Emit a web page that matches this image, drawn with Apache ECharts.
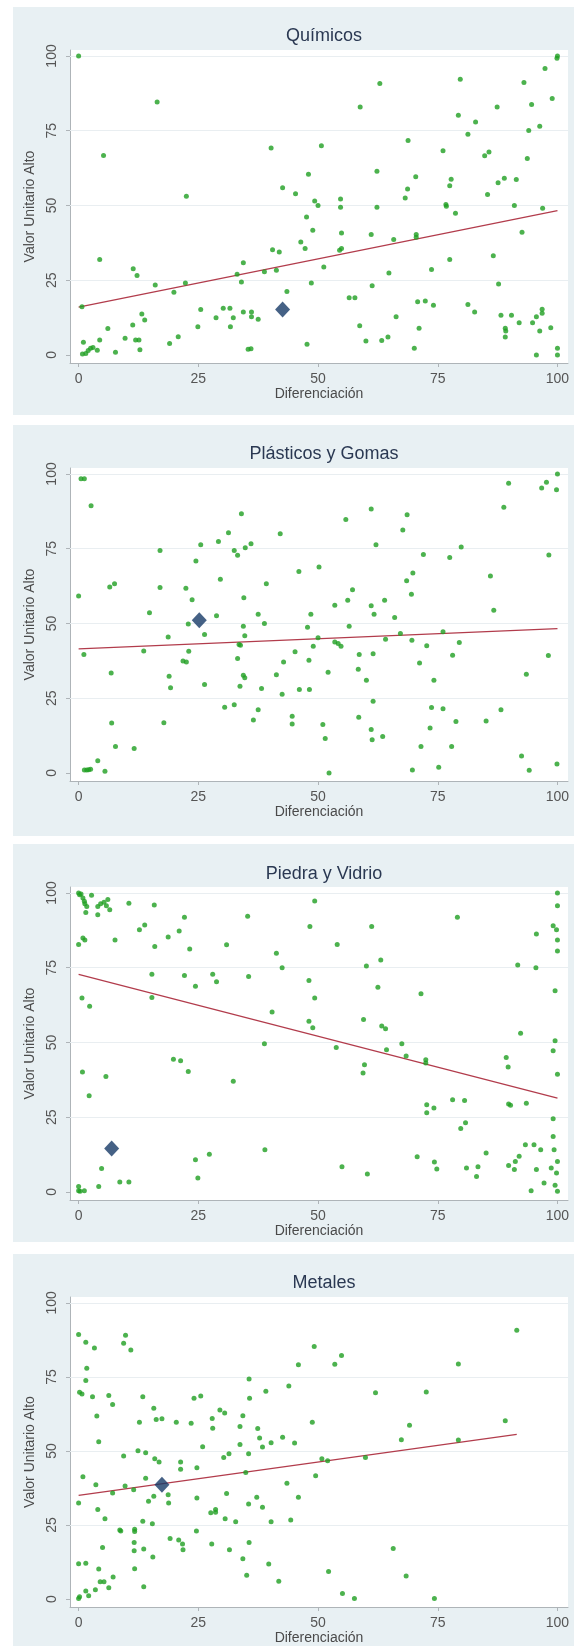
<!DOCTYPE html>
<html><head><meta charset="utf-8">
<script src="https://cdn.jsdelivr.net/npm/echarts@6/dist/echarts.min.js"></script>
<style>
html,body{margin:0;padding:0;background:#fff;}
#wrap{position:relative;width:574px;height:1646px;overflow:hidden;}
.panel{position:absolute;left:13px;right:0;background:#e8f0f3;}
#c{position:absolute;left:0;top:0;width:574px;height:1646px;}
</style>
</head><body><div id="wrap"><div id="c"></div></div>
<script>
// ---------------- DATA ----------------
const panelTitles = ['Químicos', 'Plásticos y Gomas', 'Piedra y Vidrio', 'Metales'];
const xName = 'Diferenciación';
const yName = 'Valor Unitario Alto';
const xTicks = [0, 25, 50, 75, 100];
const yTicks = [0, 25, 50, 75, 100];

const quimicos = [[0,100],[5.2,66.7],[16.4,84.6],[22.5,53.1],[40.2,69.2],[42.6,55.9],[45.3,53.9],[48,60.4],[49.3,51.5],[50.7,70],[54.7,52.2],[58.8,82.9],[62.3,61.4],[62.9,90.8],[68.2,52.5],[68.8,71.7],[68.7,55.5],[70.4,59.6],[76.1,68.3],[77.8,58.8],[77.5,56.6],[79.3,80.2],[79.7,92.2],[81.3,73.8],[82.9,77.9],[84.8,66.6],[85.7,67.9],[85.4,53.7],[87.4,82.9],[87.6,57.6],[88.9,59.1],[91.4,58.7],[93,91.1],[93.7,65.7],[94,75.1],[94.6,83.8],[96.3,76.5],[97.4,95.8],[98.9,85.8],[99.9,99.2],[100,100],
[50,50],[54.7,49.4],[62.3,49.4],[76.7,50.3],[76.8,49.7],[78.7,47.4],[91,50],[96.9,49.1],
[47.6,46.1],[48.9,41.7],[46.4,37.8],[47.3,35.6],[40.5,35.2],[41.9,34.4],[41.3,28.3],[38.8,27.8],[34.4,30.8],[33.1,27],[34,24.4],[43.5,21.2],[48.6,24.1],[51.2,29.4],[54.9,40.8],[54.5,35],[54.9,35.6],[61.1,40.3],[65.8,38.6],[64.8,27.4],[61.3,23.1],[56.5,19.1],[57.7,19.1],[70.5,40.3],[70.5,39.4],[77.5,31.9],[73.7,28.6],[86.6,33.2],[92.6,41],[87.7,23.7],[70.8,17.8],[72.4,18],[74.1,16.6],[81.3,16.9],[82.7,14.4],[66.3,12.8],[58.7,9.8],[71.1,8.9],[60,4.7],[63.3,4.8],[64.6,6],[70.1,2.2],[88.2,13.3],[89.1,8.9],[89.2,8],[89.1,6],[90.4,13.3],[92,10.8],[95.6,12.8],[96.8,13.9],[96.8,15.3],[96.3,8],[98.6,9.1],[95.6,0],[100,2.2],[100,0],[94.8,10.8],
[0.7,16.1],[0.8,0.3],[1,4.2],[1.5,0.5],[2,1.5],[2.5,2.2],[3,2.5],[3.9,1.6],[4.4,5],[4.4,31.9],[6.1,8.8],[7.7,0.9],[9.7,5.6],[11.3,10],[11.4,28.8],[12.2,26.6],[11.9,5],[12.6,5],[12.8,1.7],[13.2,13.7],[13.8,11.7],[16,23.4],[19,3.8],[19.9,21],[20.8,6.1],[22.3,24.1],[24.9,9.4],[25.5,15.2],[28.7,12.4],[30.2,15.6],[31.6,15.6],[31.7,9.4],[32.3,12.4],[34.4,14.4],[36.1,14.4],[36.1,12.8],[37.5,11.9],[35.4,1.9],[36,2.1],[47.7,3.6]];

const plasticos = [[0.5,98.4],[1.2,98.4],[2.6,89.4],[0,59.2],[6.5,62.2],[7.5,63.3],[17,74.4],[17,62],[14.8,53.6],[22.4,61.8],[23.7,57.9],[24.5,70.9],[25.5,76.3],[29.2,77.4],[29.6,64.8],[28.8,52.6],[31.3,80.3],[32.5,74.4],[33.2,72.8],[34,86.7],[34.8,75.3],[36,76.7],[34.5,58.6],[37.5,53.1],[39.2,63.3],[42.1,80],[46,67.4],[50.2,68.9],[48.5,53.1],[53.5,56.1],[55.8,84.8],[56.2,57.8],[57.2,61.3],[61.1,88.3],[61.1,55.9],[61.7,53.1],[62.1,76.3],[63.9,57.8],[66,52],[67.7,81.3],[68.6,86.4],[68.5,64.3],[69.8,66.9],[69.5,59.8],[72,73.1],[77.5,72.1],[79.9,75.6],[86,65.9],[86.7,54.4],[88.8,88.9],[89.8,96.9],[96.7,95.3],[97.7,97.2],[100,100],[99.8,94.7],[98.2,72.9],
[22.9,49.8],[38.8,50],[34.4,49.1],[34.7,45.9],[26.3,46.3],[18.7,45.5],[1.1,39.6],[13.6,40.8],[21.8,37.4],[22.5,37.1],[23,40.7],[33.5,43],[33.8,42.7],[33.2,38.3],[18.9,32.3],[19.2,28.5],[6.8,33.4],[6.9,16.7],[17.8,16.8],[26.3,29.6],[33.7,29],[34.4,32.7],[34.7,31.8],[30.5,22],[32.5,22.8],[37.5,21.1],[36.5,17.7],[38.2,28.2],[41.3,32.8],[42.5,26.3],[42.8,37.1],[45.2,40.5],[44.6,19],[44.6,16.4],[46.1,27.9],[48.2,27.9],[48.1,37.7],[47.8,48.7],[49,42.4],[50,45.2],[52.1,33.7],[51,16.2],[51.5,11.5],[52.3,0],[53.5,43.8],[54.2,43.3],[54.8,42.4],[56.5,49.1],[58.6,39.6],[58.4,34.7],[60.1,31],[61.5,39.9],[61.5,24],[58.5,18.6],[61.1,14.5],[61.3,11.1],[63.5,12.2],[64.1,44.7],[67.2,46.6],[69.6,44.4],[69.7,1],[71.2,36.8],[71.5,8.8],[72.7,42.5],[74.2,31],[73.7,21.9],[73.4,15],[75.2,1.9],[76.1,47.2],[76.1,21.5],[78.1,39.4],[78.8,17.2],[77.9,8.8],[79.5,43.6],[85.1,17.4],[88.2,21.1],[92.5,5.7],[93.5,33],[94.1,0.9],[98.1,39.3],[99.9,3],[1.2,1],[1.7,1],[2.1,1.1],[2.5,1.2],[4,4.1],[5.5,0.6],[7.7,8.8],[11.6,8.2]];

const piedra = [[0,100],[0.2,99.4],[0.5,99.7],[0.9,98.3],[1.2,97.2],[1.3,96.4],[1.7,95.5],[2.7,99.2],[1.5,93.5],[4,95.5],[4.6,96.4],[5.3,96.9],[6.1,97.8],[5.8,95.7],[6.5,94.4],[4,92.7],[0,82.8],[0.9,84.9],[1.3,84.3],[7.6,84.3],[10.5,96.6],[12.7,87.7],[13.8,89.3],[15.8,96],[15.9,82.1],[15.3,72.8],[15.3,65],[0.7,64.9],[2.3,62.1],[18.7,85.3],[21,87.3],[22.1,91.9],[23.2,81.3],[22.1,72.4],[24.4,68.8],[28,72.8],[28.8,70.3],[30.9,82.7],[35.3,92.2],[35.5,72.1],[40.4,60.2],[41.3,79.8],[42.5,75],[48.1,70.7],[48.3,88.8],[49.3,97.3],[49.3,64.9],[48.1,57.1],[48.9,54.9],[54,82.8],[59.5,57.7],[60.1,75.6],[61.2,88.8],[63.1,77.6],[62.5,68.5],[63.3,55.5],[64.1,54.6],[71.5,66.3],[79.1,91.9],[91.7,75.9],[92.3,53.1],[95.5,75],[95.6,86.3],[99.1,89],[99.8,87.7],[100,100],[100,95.7],[100,84.3],[100,80.6],[99.5,67.3],[99.5,50.6],
[99.1,47.2],[100,39.4],[38.8,49.6],[53.8,48.3],[64.3,47.6],[67.5,49.6],[68.4,45.5],[72.5,44.2],[72.5,43.1],[89.3,45],[89.7,41.8],[59.7,42.5],[59.4,39.8],[19.8,44.4],[21.3,43.9],[22.9,40.3],[32.3,37],[0.8,40.1],[5.7,38.6],[2.2,32.2],[72.7,29.2],[72.7,26.5],[74.2,28.1],[78.1,30.8],[80.6,30.6],[79.8,21.2],[80.8,23.1],[89.8,29.4],[90.2,29],[93.5,29.7],[99.1,24.5],[99.1,18.5],[99.3,14.1],[100,10.2],[99.8,6.3],[99.5,2.2],[100,0.2],[98.7,8],[95.6,7.5],[97.2,3],[96.5,14.1],[95.1,15.8],[93.3,15.8],[92,11.9],[91.2,10.2],[91,7.5],[89.8,8.8],[94.5,0.4],[85.1,13],[83.4,8.4],[83.1,5.2],[81,8],[70.7,11.8],[74.3,10],[74.8,7.7],[55,8.4],[60.3,6],[38.9,14.1],[27.3,12.6],[24.4,10.8],[24.9,4.7],[8.6,3.3],[10.5,3.3],[4.8,7.8],[4.2,1.8],[0,1.8],[0.3,0.2],[1.2,0.4],[0,0.4]];

const metales = [[0,89.3],[1.5,86.7],[3.3,84.8],[0.2,69.8],[0.7,69.2],[1.7,77.9],[1.5,73.8],[2.9,68.3],[3.8,61.8],[4.2,53.1],[6.3,68.7],[7.1,65.7],[9.4,86.4],[9.8,89.1],[10.9,84.1],[12.7,59.7],[13.4,68.3],[15.7,64.4],[16.2,60.6],[17.4,60.9],[20.4,59.7],[23.5,59.4],[24.1,67.8],[25.5,68.6],[25.9,51.4],[27.9,61],[28,57.7],[29.5,63.8],[30.5,62.8],[33.7,58.3],[34.3,61.9],[33.7,52.2],[35.6,74.3],[35.7,67.8],[37.4,57.6],[37.8,54.4],[39.1,70.2],[40.2,52.8],[38.4,51.3],[42.6,54.6],[43.9,71.9],[45.1,52.7],[45.9,79.1],[49.2,85.3],[48.8,59.7],[53.5,79.3],[54.9,82.2],[62,69.7],[67.4,53.8],[69.1,58.7],[72.6,69.9],[79.3,79.4],[79.3,53.7],[89.1,60.2],[91.5,90.8],[12.4,50.1],[14,49.4],
[35.5,49.1],[9.4,48.3],[15.9,47.4],[16.8,46.3],[21.3,46.3],[21.3,43.8],[24.7,44.3],[30.3,47.8],[31.4,49.1],[50.8,47.4],[52,46.7],[59.9,47.8],[34.9,42.7],[49.5,41.6],[0.9,41.3],[3.6,38.6],[9.7,38.2],[11.5,36.9],[14,40.8],[43.5,39.1],[0,32.4],[4,30.2],[7.1,35.8],[14.6,33],[15.7,34.7],[18.7,35.2],[18.8,32.4],[24.7,34.1],[30.9,35.6],[35.5,32.1],[37.2,34.4],[38.4,31],[45.9,34.4],[27.6,29.1],[28.6,30.2],[28.6,29.3],[5.5,27.1],[8.6,23.3],[8.8,23],[11.7,23.6],[11.7,22.8],[13.4,26.3],[15.4,25.4],[30.6,27.1],[32.8,26.1],[40.2,26.1],[44.3,26.7],[24.6,23],[19.1,20.4],[20.9,19.9],[21.7,18.6],[21.8,16.6],[11.6,19.1],[11.6,16.3],[13.6,16.9],[5,17.4],[15.5,14.2],[27.8,18.6],[31.5,16.6],[35.6,19.1],[34.3,13.6],[39.7,11.8],[35.1,8],[41.8,6],[0,11.9],[1.5,12.1],[4.2,10.1],[11.7,10.2],[7.2,7.4],[4.5,5.8],[5.3,5.8],[6.3,3.8],[3.5,3.1],[1.5,2.7],[2.1,1.1],[0.2,0.8],[0,0.2],[13.6,4.1],[52.2,9.3],[65.7,17.1],[68.4,7.8],[55.1,1.9],[57.6,0.2],[74.3,0.2]];

// highlighted observation (diamond) per panel
const highlight = [[42.6,15.2],[25.2,51.1],[6.9,14.5],[17.4,38.6]];
// fitted line endpoints per panel
const trendLines = [
  [[0,16],[100,48.3]],
  [[0,41.5],[100,48.3]],
  [[0,72.8],[100,31.4]],
  [[0,35],[91.5,55.6]]
];
const panelPoints = [quimicos, plasticos, piedra, metales];

// ---------------- LAYOUT ----------------
const panelTop = [7, 425, 844, 1254];
const panelBottom = [415, 836, 1242, 1646];
const plotTop = [50, 468, 887, 1297];
const plotLeft = 70, plotWidth = 498, plotHeight = 313;
const titleCenter = [33, 451.5, 871.5, 1280.5];
const FONT = 'Liberation Sans, Arial, sans-serif';
const axisGray = '#aeb4b8';

const wrap = document.getElementById('wrap');
panelTop.forEach((t, i) => {
  const d = document.createElement('div');
  d.className = 'panel';
  d.style.top = t + 'px';
  d.style.height = (panelBottom[i] - t) + 'px';
  wrap.insertBefore(d, wrap.firstChild);
});

const chart = echarts.init(document.getElementById('c'), null, {renderer: 'canvas'});
const grids = [], xAxes = [], yAxes = [], titles = [], series = [];
panelTitles.forEach((name, i) => {
  grids.push({left: plotLeft, top: plotTop[i], width: plotWidth, height: plotHeight,
    show: true, backgroundColor: '#ffffff', borderWidth: 0, containLabel: false});
  titles.push({text: name, left: plotLeft + plotWidth / 2, top: titleCenter[i] - 11, textAlign: 'center',
    textStyle: {fontSize: 18, fontWeight: 'normal', color: '#2a3852', fontFamily: FONT}});
  xAxes.push({gridIndex: i, type: 'value', min: -1.8, max: 102.2,
    name: xName, nameLocation: 'middle', nameGap: 24,
    nameTextStyle: {fontSize: 14, color: '#4a4a4a', fontFamily: FONT},
    axisLine: {show: true, onZero: false, lineStyle: {color: axisGray, width: 1}},
    axisTick: {show: true, length: 4, customValues: xTicks, lineStyle: {color: axisGray}},
    axisLabel: {customValues: xTicks, fontSize: 14, color: '#555', margin: 9, fontFamily: FONT},
    splitLine: {show: false}});
  yAxes.push({gridIndex: i, type: 'value', min: -2.7, max: 102,
    name: yName, nameLocation: 'middle', nameGap: 27, nameRotate: 90,
    nameTextStyle: {fontSize: 14, color: '#4a4a4a', fontFamily: FONT},
    axisLine: {show: true, onZero: false, lineStyle: {color: axisGray, width: 1}},
    axisTick: {show: true, length: 4, customValues: yTicks, lineStyle: {color: axisGray}},
    axisLabel: {customValues: yTicks, rotate: 90, fontSize: 14, color: '#555', margin: 11, fontFamily: FONT},
    splitLine: {show: false}});
  series.push({type: 'line', xAxisIndex: i, yAxisIndex: i, data: trendLines[i], symbol: 'none',
    lineStyle: {color: '#b23c4c', width: 1.3}, z: 3, silent: true,
    markLine: {silent: true, symbol: 'none', label: {show: false},
      lineStyle: {color: '#e9eef1', width: 1, type: 'solid'},
      data: yTicks.filter(v => v > 0).map(v => ({yAxis: v})), z: 1}});
  series.push({type: 'scatter', xAxisIndex: i, yAxisIndex: i, data: panelPoints[i],
    symbol: 'circle', symbolSize: 5, itemStyle: {color: '#1f9f22'}, z: 4, silent: true});
  series.push({type: 'scatter', xAxisIndex: i, yAxisIndex: i, data: [highlight[i]],
    symbol: 'diamond', symbolSize: [15, 16], itemStyle: {color: '#173a66'}, z: 6, silent: true});
});

chart.setOption({
  animation: false,
  backgroundColor: 'transparent',
  title: titles, grid: grids, xAxis: xAxes, yAxis: yAxes, series: series
});
</script>
</body></html>
